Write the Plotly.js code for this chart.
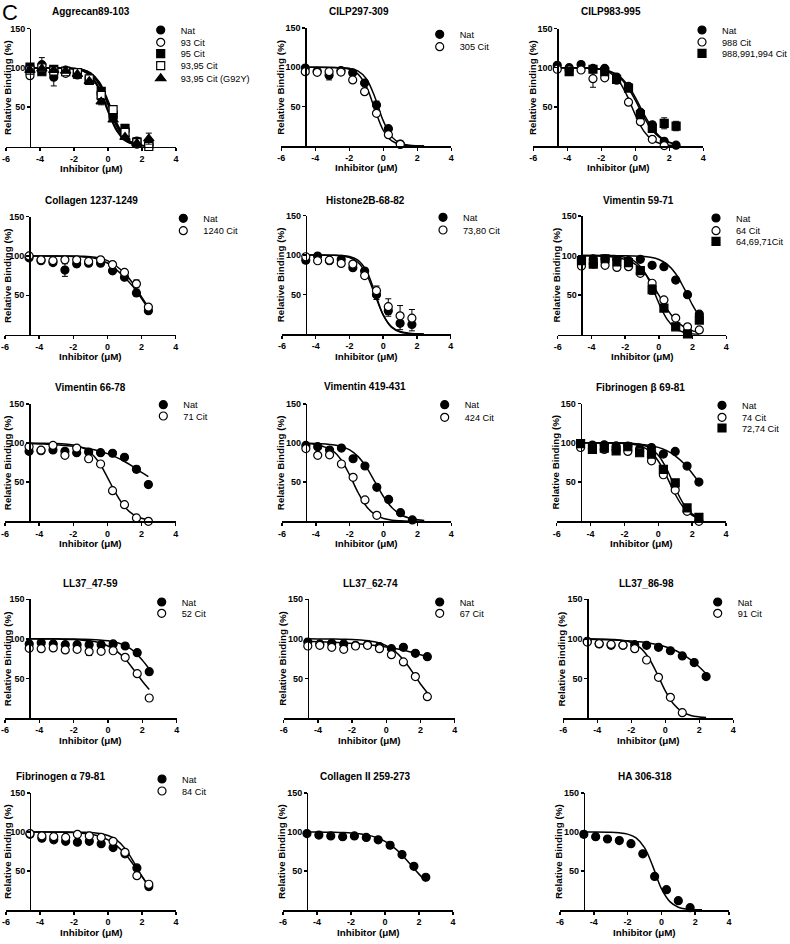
<!DOCTYPE html>
<html><head><meta charset="utf-8">
<script src="https://cdn.plot.ly/plotly-3.0.1.min.js"></script>
<style>html,body{margin:0;padding:0;background:#fff}#chart{width:790px;height:944px}</style>
</head><body><div id="chart"></div>
<script>
// ---------- DATA ----------
const X_CONC = [-4.59, -3.89, -3.19, -2.49, -1.80, -1.10, -0.40, 0.30, 1.00, 1.70, 2.40];
const CURVE_X = [-4.6, -4.0, -3.0, -2.5, -2.0, -1.5, -1.0, -0.5, 0.0, 0.5, 1.0, 1.5, 2.0, 2.4];
const X_TICKS = [-6, -4, -2, 0, 2, 4];
const X_TICK_LABELS = ['-6', '-4', '-2', '0', '2', '4'];
const Y_TICKS = [50, 100, 150];

const PANEL_TITLES = ['Aggrecan89-103', 'CILP297-309', 'CILP983-995', 'Collagen 1237-1249', 'Histone2B-68-82',
  'Vimentin 59-71', 'Vimentin 66-78', 'Vimentin 419-431', 'Fibrinogen \u03b2 69-81', 'LL37_47-59', 'LL37_62-74',
  'LL37_86-98', 'Fibrinogen \u03b1 79-81', 'Collagen II 259-273', 'HA 306-318'];

// 1 Aggrecan89-103
const AGG_NAMES = ['Nat', '93 Cit', '95 Cit', '93,95 Cit', '93,95 Cit (G92Y)'];
const AGG_NAT = [100, 104, 88, 97, 93, 87, 68, 43, 22, 7, 3];
const AGG_NAT_ERR = [3, 9, 11, 2, 2, 2, 3, 3, 3, 2, 1];
const AGG_93 = [90, 98, 95, 93, 91, 85, 62, 38, 13, 3, 2];
const AGG_95 = [101, 95, 98, 96, 92, 84, 70, 40, 23, 6, 3];
const AGG_9395 = [97, 100, 96, 95, 94, 86, 65, 47, 18, 5, 0];
const AGG_G92Y = [97, 99, 97, 96, 92, 83, 57, 34, 12, 4, 10];
const AGG_G92Y_ERR = [0, 0, 0, 0, 0, 0, 4, 0, 0, 0, 7];
const AGG_NAT_FIT = [100, 100, 100, 99.7, 99, 97.3, 91.8, 78, 53, 26, 10, 3.4, 1.1, 0.5];
const AGG_93_FIT = [100, 100, 100, 99.6, 98.8, 96.6, 90, 73.8, 47, 22, 8.2, 2.7, 0.9, 0.4];
const AGG_95_FIT = [100, 100, 100, 99.7, 99.2, 97.5, 92.6, 79.9, 55.7, 28.5, 11.2, 3.8, 1.2, 0.5];
const AGG_9395_FIT = [100, 100, 100, 99.8, 99.3, 97.8, 93.4, 81.7, 58.5, 30.9, 12.4, 4.3, 1.4, 0.6];
const AGG_G92Y_FIT = [100, 100, 100, 99.6, 98.6, 96.2, 88.8, 71.5, 44.3, 20.1, 7.4, 2.5, 0.8, 0.3];

// 2 CILP297-309
const CILP297_NAMES = ['Nat', '305 Cit'];
const CILP297_NAT = [99, 95, 90, 96, 93, 80, 52, 22, 2.5, null, null];
const CILP297_NAT_ERR = [0, 0, 6, 0, 0, 0, 5, 0, 0, 0, 0];
const CILP297_305 = [94.5, 93.6, 94.5, 94, 84, 69, 41.5, 14.4, 2, null, null];
const CILP297_NAT_FIT = [100, 100, 99.9, 99.6, 98.7, 95.4, 85.5, 62.4, 31.9, 11.6, 3.6, 1.1, 0.3, 0.1];
const CILP297_305_FIT = [100, 100, 99.8, 99.3, 97.6, 91.7, 75.8, 46.8, 19.9, 6.5, 2, 0.6, 0.2, 0.1];

// 3 CILP983-995
const CILP983_NAMES = ['Nat', '988 Cit', '988,991,994 Cit'];
const CILP983_NAT = [103, 100, 104, 99, 99, 88, 76, 43, 27, 6, 1];
const CILP983_988 = [98, 97, 97, 86, 87, 84, 56, 31, 8.5, 0.5, null];
const CILP983_988_ERR = [0, 0, 0, 11, 0, 0, 0, 0, 0, 0, 0];
const CILP983_TRI = [null, 95, null, 98, 95, 85, 74, 40, 22.5, 29, 25.5];
const CILP983_TRI_ERR = [0, 0, 0, 0, 0, 0, 0, 0, 0, 7, 6];
const CILP983_NAT_FIT = [100, 99.9, 99.6, 99.1, 97.8, 95, 88.8, 77, 58.5, 37.3, 20, 9.6, 4.3, 2.2];
const CILP983_988_FIT = [100, 99.9, 99.7, 99.2, 97.7, 93.7, 84, 65, 39.8, 19, 7.7, 2.9, 1, 0.5];
const CILP983_TRI_FIT = [100, 99.9, 99.6, 99.2, 98.1, 95.6, 90.2, 79.5, 62, 41, 23, 11, 5, 2.6];

// 4 Collagen 1237-1249
const COL1237_NAMES = ['Nat', '1240 Cit'];
const COL1237_NAT = [97.5, 94, 91.5, 82, 90, 90.7, 90.7, 81, 73, 53, 30.5];
const COL1237_NAT_ERR = [0, 0, 0, 8, 4, 0, 0, 0, 0, 4, 0];
const COL1237_1240 = [100, 95, 94, 95, 95, 93, 95, 89, 79, 64.5, 35];
const COL1237_1240_ERR = [0, 0, 0, 4, 0, 0, 0, 0, 0, 5, 0];
const COL1237_NAT_FIT = [100, 99.9, 99.8, 99.6, 99.3, 98.8, 97.8, 95.5, 91, 83, 73, 61, 46, 33];
const COL1237_1240_FIT = [100, 100, 100, 99.9, 99.8, 99.5, 99, 97.5, 94, 87.5, 78, 65, 48, 35];

// 5 Histone2B-68-82
const HIS_NAMES = ['Nat', '73,80 Cit'];
const HIS_NAT = [93.5, 98.6, 92.7, 94.4, 84, 79.6, 49.7, 29.5, 13.5, 12, null];
const HIS_NAT_ERR = [4, 0, 0, 0, 0, 0, 6, 7, 8, 8, 0];
const HIS_7380 = [97.8, 92.7, 93.5, 89.3, 88.5, 74, 54.8, 34.6, 23, 20, null];
const HIS_7380_ERR = [0, 0, 0, 0, 0, 0, 6, 10, 13, 11, 0];
const HIS_NAT_FIT = [100, 100, 99.8, 99.4, 98.1, 93.5, 80.1, 53.2, 24.2, 8.3, 2.5, 0.7, 0.2, 0.1];
const HIS_7380_FIT = [100, 100, 99.7, 99, 96.9, 90.9, 76, 50, 24, 9.1, 3.1, 1, 0.3, 0.1];

// 6 Vimentin 59-71
const VIM59_NAMES = ['Nat', '64 Cit', '64,69,71Cit'];
const VIM59_NAT = [94.4, 96, 96, 95, 93.6, 95.2, 87.7, 86, 69, 50.6, 26];
const VIM59_64 = [86.8, 89.3, 87.7, 85, 86, 77.5, 65, 44, 21, 10, 6];
const VIM59_TRI = [93.6, 89.3, 96, 92, 91, 81, 57, 33.7, 10, 1, 18.5];
const VIM59_TRI_ERR = [0, 0, 0, 0, 0, 0, 6, 0, 0, 0, 4];
const VIM59_NAT_FIT = [100, 100, 100, 99.9, 99.8, 99.6, 99.1, 97.8, 95, 88.8, 77, 58.5, 37.3, 23];
const VIM59_64_FIT = [99.9, 99.7, 98.9, 97.7, 95.2, 90.4, 81.7, 67.9, 50, 32.1, 18.3, 9.6, 4.8, 2.7];
const VIM59_TRI_FIT = [100, 100, 99.7, 99.2, 97.7, 93.7, 84, 65, 39.8, 19, 7.7, 2.9, 1, 0.5];

// 7 Vimentin 66-78
const VIM66_NAMES = ['Nat', '71 Cit'];
const VIM66_NAT = [89.5, 90.3, 91.2, 89.5, 87.8, 88.6, 87.8, 87, 81.8, 66.5, 46.9];
const VIM66_NAT_ERR = [0, 0, 0, 0, 0, 0, 0, 0, 0, 4, 0];
const VIM66_71 = [95.4, 91, 97, 84.4, 93.7, 80, 73.3, 39.2, 21.3, 4.3, 0];
const VIM66_NAT_FIT = [99.5, 99, 98, 97, 96, 94.5, 92.5, 90, 86.5, 82, 76.5, 70, 62.5, 57];
const VIM66_71_FIT = [100, 99.9, 99.6, 99, 97.6, 94.5, 88, 75.5, 56.3, 35.4, 18.7, 8.9, 3.9, 2];

// 8 Vimentin 419-431
const VIM419_NAMES = ['Nat', '424 Cit'];
const VIM419_NAT = [97, 95.4, 91.2, 93.7, 80, 70.7, 43.5, 28, 11, 1.7, null];
const VIM419_424 = [93, 84.4, 85, 73.3, 56.2, 27.3, 7.7, null, null, null, null];
const VIM419_NAT_FIT = [99.8, 99.6, 98, 95.8, 91.3, 82.7, 68.6, 50, 31.4, 17.3, 8.7, 4.2, 2, 1.1];
const VIM419_424_FIT = [99.4, 98.3, 90.1, 78.4, 59, 36.5, 18.6, 8.4, 3.5, 1.4, 0.6, 0.2, 0.1, 0];

// 9 Fibrinogen beta 69-81
const FIBB_NAMES = ['Nat', '74 Cit', '72,74 Cit'];
const FIBB_NAT = [99, 97, 97.5, 96, 95.8, 92.4, 94, 85.6, 89, 70.3, 50];
const FIBB_74 = [94, 92.4, 91.5, 90.7, 89, 89, 77, 59.3, 39.8, 12.7, 0];
const FIBB_7274 = [99, 91.5, 93.2, 89.8, 94.9, 87.3, 85.6, 66, 49, 17, 5];
const FIBB_NAT_FIT = [100, 99.9, 99.8, 99.6, 99.4, 98.9, 98, 96.6, 94.1, 89.9, 83.4, 73.8, 61.3, 50];
const FIBB_74_FIT = [100, 100, 99.9, 99.7, 99.2, 98.1, 95.4, 89.3, 76.8, 56.9, 34.4, 17.3, 7.7, 3.8];
const FIBB_7274_FIT = [100, 100, 100, 99.9, 99.6, 99, 97.4, 93.4, 84, 66.6, 42.6, 22, 9.5, 4.6];

// 10 LL37_47-59
const LL47_NAMES = ['Nat', '52 Cit'];
const LL47_NAT = [93.6, 95.2, 93.6, 92.7, 92.7, 92.7, 92.7, 93.6, 91, 82.6, 58.6];
const LL47_52 = [88, 87.6, 88.5, 86, 86.8, 83.9, 84.3, 85, 76.7, 56, 25.3];
const LL47_52_ERR = [0, 0, 0, 0, 0, 5, 0, 0, 0, 0, 0];
const LL47_NAT_FIT = [100, 100, 100, 99.9, 99.8, 99.6, 99.3, 98.7, 97.5, 95.3, 91.5, 84.5, 73, 62];
const LL47_52_FIT = [100, 99.9, 99.7, 99.5, 99.1, 98.4, 97.2, 95, 91, 84.5, 74.5, 61, 46.5, 36];

// 11 LL37_62-74
const LL62_NAMES = ['Nat', '67 Cit'];
const LL62_NAT = [96, 93.6, 94.4, 93.6, 91.9, 92.7, 90.2, 87.6, 89.3, 81.7, 77.5];
const LL62_67 = [91, 91.9, 89.3, 86.8, 91, 91.9, 87.6, 80, 70.8, 52.3, 27];
const LL62_NAT_FIT = [97, 96.5, 95.6, 95, 94.3, 93.5, 92.5, 91.2, 89.7, 87.8, 85.5, 82.8, 80, 78];
const LL62_67_FIT = [100, 99.9, 99.7, 99.5, 99.2, 98.6, 97.5, 95.5, 91.5, 84.5, 73.5, 59, 43, 32];

// 12 LL37_86-98
const LL86_NAMES = ['Nat', '91 Cit'];
const LL86_NAT = [97, 93.6, 91.9, 91.9, 92.7, 91.9, 89.3, 85, 78.4, 70, 52.3];
const LL86_91 = [96, 94, 93, 92, 87.6, 73.3, 51.4, 26.1, 6.7, null, null];
const LL86_NAT_FIT = [99.5, 99.2, 98.5, 98, 97.2, 96.2, 94.8, 92.8, 90, 86.2, 80.8, 73.5, 64.5, 56];
const LL86_91_FIT = [100, 99.9, 99.2, 98.1, 95.4, 89.3, 76.8, 56.9, 34.4, 17.3, 7.7, 3.2, 1.3, 0.6];

// 13 Fibrinogen alpha 79-81
const FIBA_NAMES = ['Nat', '84 Cit'];
const FIBA_NAT = [97, 92, 90, 88, 87, 88, 85, 80, 72, 54, 30];
const FIBA_NAT_ERR = [4, 0, 0, 0, 0, 0, 0, 0, 0, 3, 4];
const FIBA_84 = [98, 95, 94, 93, 97, 95, 93, 88, 74, 44, 33];
const FIBA_NAT_FIT = [100, 100, 99.8, 99.6, 99.2, 98.5, 97, 94.5, 90, 82.5, 72, 58, 43, 31];
const FIBA_84_FIT = [100, 100, 100, 99.9, 99.8, 99.6, 99.2, 98, 95.5, 90, 79, 62, 43, 30];

// 14 Collagen II 259-273
const COL2_NAT = [98, 96, 95, 94, 95, 93, 90, 83, 71, 56, 42];
const COL2_NAT_ERR = [0, 0, 0, 3, 0, 0, 0, 4, 0, 0, 0];
const COL2_NAT_FIT = [100, 99.9, 99.6, 99.3, 98.8, 97.8, 96, 93, 88, 80.5, 70.5, 58.5, 46, 37];

// 15 HA 306-318
const HA_NAT = [97, 94, 91, 89, 85, 72, 43, 26, 12, 3, null];
const HA_NAT_ERR = [4, 0, 0, 0, 0, 0, 0, 0, 0, 0, 0];
const HA_NAT_FIT = [100, 100, 99.7, 99, 97.3, 92.4, 79.9, 55.6, 27.3, 10.7, 3.6, 1.2, 0.4, 0.2];

// ---------- TABLE ----------
const S = (name, y, fit, st, err) => ({name, y, fit, st, err});
const PANELS = [
  [S(AGG_NAMES[0], AGG_NAT, AGG_NAT_FIT, 'nat', AGG_NAT_ERR), S(AGG_NAMES[1], AGG_93, AGG_93_FIT, 'open'),
   S(AGG_NAMES[2], AGG_95, AGG_95_FIT, 'sq'), S(AGG_NAMES[3], AGG_9395, AGG_9395_FIT, 'osq'),
   S(AGG_NAMES[4], AGG_G92Y, AGG_G92Y_FIT, 'tri', AGG_G92Y_ERR)],
  [S(CILP297_NAMES[0], CILP297_NAT, CILP297_NAT_FIT, 'nat', CILP297_NAT_ERR), S(CILP297_NAMES[1], CILP297_305, CILP297_305_FIT, 'open')],
  [S(CILP983_NAMES[0], CILP983_NAT, CILP983_NAT_FIT, 'nat'), S(CILP983_NAMES[1], CILP983_988, CILP983_988_FIT, 'open', CILP983_988_ERR),
   S(CILP983_NAMES[2], CILP983_TRI, CILP983_TRI_FIT, 'sq', CILP983_TRI_ERR)],
  [S(COL1237_NAMES[0], COL1237_NAT, COL1237_NAT_FIT, 'nat', COL1237_NAT_ERR), S(COL1237_NAMES[1], COL1237_1240, COL1237_1240_FIT, 'open', COL1237_1240_ERR)],
  [S(HIS_NAMES[0], HIS_NAT, HIS_NAT_FIT, 'nat', HIS_NAT_ERR), S(HIS_NAMES[1], HIS_7380, HIS_7380_FIT, 'open', HIS_7380_ERR)],
  [S(VIM59_NAMES[0], VIM59_NAT, VIM59_NAT_FIT, 'nat'), S(VIM59_NAMES[1], VIM59_64, VIM59_64_FIT, 'open'),
   S(VIM59_NAMES[2], VIM59_TRI, VIM59_TRI_FIT, 'sq', VIM59_TRI_ERR)],
  [S(VIM66_NAMES[0], VIM66_NAT, VIM66_NAT_FIT, 'nat', VIM66_NAT_ERR), S(VIM66_NAMES[1], VIM66_71, VIM66_71_FIT, 'open')],
  [S(VIM419_NAMES[0], VIM419_NAT, VIM419_NAT_FIT, 'nat'), S(VIM419_NAMES[1], VIM419_424, VIM419_424_FIT, 'open')],
  [S(FIBB_NAMES[0], FIBB_NAT, FIBB_NAT_FIT, 'nat'), S(FIBB_NAMES[1], FIBB_74, FIBB_74_FIT, 'open'), S(FIBB_NAMES[2], FIBB_7274, FIBB_7274_FIT, 'sq')],
  [S(LL47_NAMES[0], LL47_NAT, LL47_NAT_FIT, 'nat'), S(LL47_NAMES[1], LL47_52, LL47_52_FIT, 'open', LL47_52_ERR)],
  [S(LL62_NAMES[0], LL62_NAT, LL62_NAT_FIT, 'nat'), S(LL62_NAMES[1], LL62_67, LL62_67_FIT, 'open')],
  [S(LL86_NAMES[0], LL86_NAT, LL86_NAT_FIT, 'nat'), S(LL86_NAMES[1], LL86_91, LL86_91_FIT, 'open')],
  [S(FIBA_NAMES[0], FIBA_NAT, FIBA_NAT_FIT, 'nat', FIBA_NAT_ERR), S(FIBA_NAMES[1], FIBA_84, FIBA_84_FIT, 'open')],
  [S('Nat', COL2_NAT, COL2_NAT_FIT, 'nat', COL2_NAT_ERR)],
  [S('Nat', HA_NAT, HA_NAT_FIT, 'nat', HA_NAT_ERR)]
];
const SHOW_LEGEND = [true, true, true, true, true, true, true, true, true, true, true, true, true, false, false];

// ---------- LAYOUT GEOMETRY (pixels) ----------
const W = 790, H = 944;
// [x pixel of -6, x pixel of 4, y pixel of 150, y pixel of 0]
const GEOM = [
  [6, 176, 28.5, 146.5], [281.3, 451.3, 28, 146], [533.3, 703.3, 28.5, 146],
  [5, 175.7, 216.5, 334.7], [282, 450.7, 215.5, 334], [557.7, 726.3, 216, 334.7],
  [5, 175.7, 404, 521.3], [282, 451.3, 404, 521.3], [556.7, 726, 403.5, 521.3],
  [5, 176.7, 599.3, 718], [283.7, 454.7, 599.3, 718], [563.3, 733.3, 599.3, 718],
  [6, 176, 793, 910], [283, 453, 793, 910], [560, 729, 793, 910]
];
const TITLE_POS = [[90.7, 12], [359.3, 12], [610.7, 12], [91, 200], [365.3, 200], [638.3, 200.7],
  [90.7, 387.3], [365.3, 386.7], [640, 387.3], [90.7, 583.3], [370.3, 583.3], [646, 583.3],
  [60, 776], [365, 776], [645, 776]];
// legend: text start x, row centers y
const LEGEND_POS = [
  [180.7, [30, 42.3, 53.7, 65.7, 78.3]], [459.7, [34.3, 46.7]], [722, [30, 42, 53.3]],
  [203.3, [218.3, 230.7]], [463, [217.3, 230]], [736, [218, 230.7, 241.3]],
  [183.3, [404.7, 416]], [464.7, [404.7, 417.3]], [742, [405.3, 417.3, 428]],
  [181.7, [602, 613.3]], [459.7, [602, 613.3]], [737.7, [602, 613.3]],
  [182, [779, 791]], null, null
];
const Y_AXIS_AT = -4.59;

const FONT = 'Liberation Sans, Arial, Helvetica, sans-serif';
const STYLE = {
  nat: {symbol: 'circle', color: '#000'},
  open: {symbol: 'circle', color: '#fff'},
  sq: {symbol: 'square', color: '#000'},
  osq: {symbol: 'square', color: '#fff'},
  tri: {symbol: 'triangle-up', color: '#000'}
};
const px = v => v / W;
const py = v => 1 - v / H;

const traces = [];
const layout = {
  width: W, height: H,
  margin: {l: 0, r: 0, t: 0, b: 0, autoexpand: false},
  paper_bgcolor: '#fff', plot_bgcolor: 'rgba(0,0,0,0)',
  font: {family: FONT, color: '#000'},
  showlegend: true,
  annotations: [],
  shapes: []
};
layout.annotations.push({xref: 'paper', yref: 'paper', x: px(1), y: py(1), xanchor: 'left', yanchor: 'top',
  height: 20, valign: 'middle',
  text: 'C', showarrow: false, borderpad: 0, font: {family: FONT, size: 22, color: '#000'}});

let legCount = 0;
PANELS.forEach((series, i) => {
  const n = i + 1, sfx = n === 1 ? '' : String(n);
  const xa = 'x' + sfx, ya = 'y' + sfx;
  const g = GEOM[i];
  layout['xaxis' + sfx] = {
    domain: [px(g[0]), px(g[1])], range: [-6, 4], anchor: ya, fixedrange: true,
    tickvals: X_TICKS, ticktext: X_TICK_LABELS, ticks: 'outside', ticklen: 3, tickwidth: 1.5, tickcolor: '#000',
    showline: true, linewidth: 1.5, linecolor: '#000', showgrid: false, zeroline: false,
    tickfont: {family: FONT, size: 9, weight: 'bold', color: '#000'}
  };
  layout['yaxis' + sfx] = {
    domain: [py(g[3]), py(g[2])], range: [0, 150], anchor: 'free', fixedrange: true,
    position: px(g[0] + (g[1] - g[0]) * (Y_AXIS_AT + 6) / 10),
    tickvals: Y_TICKS, ticks: 'outside', ticklen: 3, tickwidth: 1.5, tickcolor: '#000',
    showline: true, linewidth: 1.5, linecolor: '#000', showgrid: false, zeroline: false,
    tickfont: {family: FONT, size: 9, weight: 'bold', color: '#000'}
  };
  // panel title
  layout.annotations.push({xref: 'paper', yref: 'paper', x: px(TITLE_POS[i][0]), y: py(TITLE_POS[i][1]),
    xanchor: 'center', yanchor: 'middle', showarrow: false, text: '<b>' + PANEL_TITLES[i] + '</b>',
    font: {family: FONT, size: 10, color: '#000'}});
  // axis titles
  layout.annotations.push({xref: 'paper', yref: 'paper', x: px((g[0] + g[1]) / 2), y: py(g[3] + 22),
    xanchor: 'center', yanchor: 'middle', showarrow: false, text: '<b>Inhibitor (\u03bcM)</b>',
    font: {family: FONT, size: 9.8, color: '#000'}});
  layout.annotations.push({xref: 'paper', yref: 'paper', x: px(Math.max(g[0] - 1.5, 7.5)), y: py((g[2] + g[3]) / 2),
    xanchor: 'center', yanchor: 'middle', showarrow: false, textangle: -90, borderpad: 0, text: '<b>Relative Binding (%)</b>',
    font: {family: FONT, size: 9.8, color: '#000'}});

  // fitted curves
  series.forEach(s => {
    traces.push({x: CURVE_X, y: s.fit, xaxis: xa, yaxis: ya, type: 'scatter', mode: 'lines',
      line: {color: '#000', width: 1.5, shape: 'spline', smoothing: 1}, showlegend: false, hoverinfo: 'skip'});
  });
  // data points
  series.forEach((s, k) => {
    const st = STYLE[s.st];
    const t = {x: X_CONC, y: s.y, xaxis: xa, yaxis: ya, type: 'scatter', mode: 'markers', name: s.name,
      cliponaxis: false,
      marker: {symbol: st.symbol, size: s.st === 'tri' ? 9 : 8, color: st.color, line: {color: '#000', width: 1.2}},
      showlegend: false};
    if (s.err) t.error_y = {type: 'data', array: s.err, visible: true, color: '#000', thickness: 1, width: 3};
    if (SHOW_LEGEND[i] && LEGEND_POS[i]) {
      legCount++;
      const lid = legCount === 1 ? 'legend' : 'legend' + legCount;
      t.showlegend = true;
      t.legend = lid;
      layout[lid] = {x: px(LEGEND_POS[i][0] - 40), y: py(LEGEND_POS[i][1][k]), xanchor: 'left', yanchor: 'middle',
        bgcolor: 'rgba(0,0,0,0)', borderwidth: 0, itemwidth: 30, tracegroupgap: 0,
        font: {family: FONT, size: 9.2, color: '#000'}};
    }
    traces.push(t);
  });
});

Plotly.newPlot('chart', traces, layout, {staticPlot: true, displayModeBar: false});
</script>
</body></html>
